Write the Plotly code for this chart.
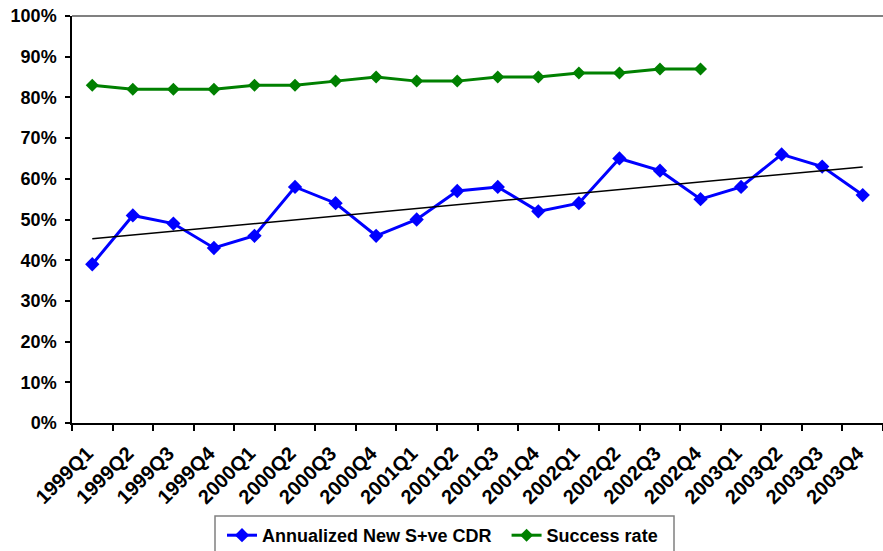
import numpy as np
import plotly.graph_objects as go

# Quarterly categories
quarters = [
    "1999Q1", "1999Q2", "1999Q3", "1999Q4",
    "2000Q1", "2000Q2", "2000Q3", "2000Q4",
    "2001Q1", "2001Q2", "2001Q3", "2001Q4",
    "2002Q1", "2002Q2", "2002Q3", "2002Q4",
    "2003Q1", "2003Q2", "2003Q3", "2003Q4",
]

# Annualized new S+ve CDR (%)
cdr_pct = [39, 51, 49, 43, 46, 58, 54, 46, 50, 57,
           58, 52, 54, 65, 62, 55, 58, 66, 63, 56]

# Success rate (%), reported through 2002Q4
success_pct = [83, 82, 82, 82, 83, 83, 84, 85, 84, 84,
               85, 85, 86, 86, 87, 87]

y_ticks = [0, 10, 20, 30, 40, 50, 60, 70, 80, 90, 100]

cdr = [v / 100 for v in cdr_pct]
success = [v / 100 for v in success_pct]

# Linear trend of the CDR series
idx = np.arange(len(cdr))
slope, intercept = np.polyfit(idx, cdr, 1)
trend = [intercept + slope * i for i in idx]

FONT = "Liberation Sans, Arial, sans-serif"

# Plot-area geometry in pixels, used to place the legend and its frame
W, H = 883, 551
ML, MR, MT, MB = 72, 0, 16, 128
PW, PH = W - ML - MR, H - MT - MB


def px_x(px):
    return (px - ML) / PW


def px_y(py):
    return (H - MB - py) / PH


fig = go.Figure()

fig.add_trace(go.Scatter(
    x=quarters, y=cdr, mode="lines+markers",
    # non-breaking spaces widen the gap before the next legend entry
    name="Annualized New S+ve CDR\u00a0\u00a0",
    line=dict(color="#0000FF", width=3),
    marker=dict(symbol="diamond", size=11, color="#0000FF"),
))

fig.add_trace(go.Scatter(
    x=quarters[:len(success)], y=success, mode="lines+markers",
    name="Success rate",
    line=dict(color="#008000", width=3),
    marker=dict(symbol="diamond", size=10, color="#008000"),
))

fig.add_trace(go.Scatter(
    x=quarters, y=trend, mode="lines",
    line=dict(color="#000000", width=1.5),
    showlegend=False, hoverinfo="skip",
))

fig.update_layout(
    width=W, height=H,
    margin=dict(l=ML, r=MR, t=MT, b=MB, autoexpand=False),
    paper_bgcolor="white", plot_bgcolor="white",
    font=dict(family=FONT, size=18, color="#000000"),
    legend=dict(
        orientation="h",
        x=px_x(222), xanchor="left",
        y=px_y(517), yanchor="top",
        borderwidth=0, bgcolor="rgba(0,0,0,0)",
        font=dict(family=FONT, size=18, weight="bold"),
    ),
    xaxis=dict(
        type="category",
        categoryorder="array", categoryarray=quarters,
        range=[-0.5, len(quarters) - 0.5],
        showgrid=False, zeroline=False,
        showline=True, linecolor="#000000", linewidth=1.5,
        ticks="outside", ticklen=6, tickcolor="#000000", tickwidth=1.5,
        tickson="boundaries",
        tickangle=-45,
        ticklabelstandoff=9, ticklabelshift=-5,
        tickfont=dict(family=FONT, size=20, weight="bold"),
    ),
    yaxis=dict(
        range=[0, 1],
        tickvals=[t / 100 for t in y_ticks],
        ticktext=[f"{t}%" for t in y_ticks],
        showgrid=False, zeroline=False,
        showline=True, linecolor="#000000", linewidth=1.5,
        ticks="outside", ticklen=5, tickcolor="#000000", tickwidth=1.5,
        ticklabelstandoff=5,
        tickfont=dict(family=FONT, size=18, weight="bold"),
    ),
    shapes=[
        # grey frame line along the top of the plot area
        dict(type="line", xref="paper", yref="paper",
             x0=0, x1=1, y0=1, y1=1,
             line=dict(color="#808080", width=2)),
        # legend frame
        dict(type="rect", xref="paper", yref="paper",
             x0=px_x(215), x1=px_x(674), y0=px_y(516), y1=px_y(565),
             line=dict(color="#808080", width=1.5),
             fillcolor="rgba(0,0,0,0)"),
    ],
)

fig.write_html("out.html")
